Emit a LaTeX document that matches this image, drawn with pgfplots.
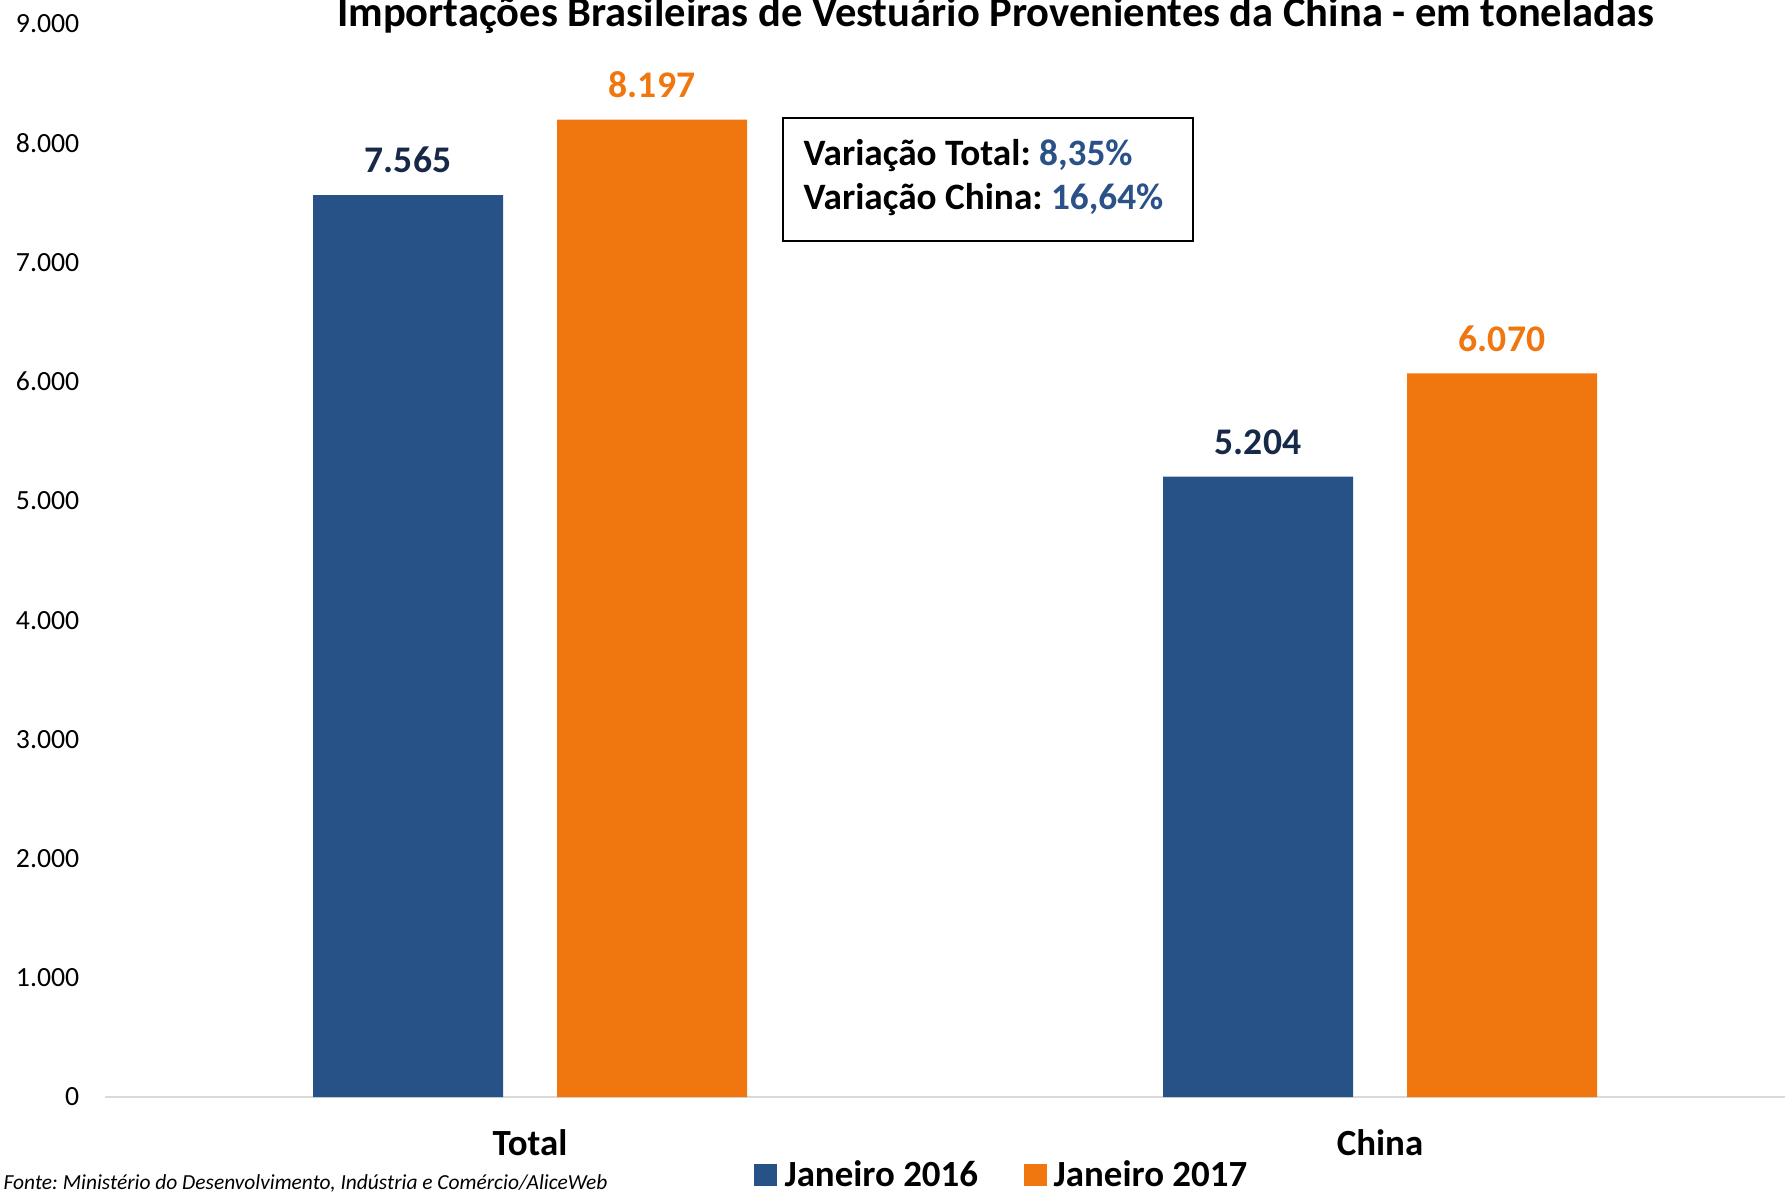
\documentclass[border=0pt]{standalone}
\usepackage{fontspec}
\setmainfont{Carlito}
\usepackage{pgfplots}
\pgfplotsset{compat=1.18}
\definecolor{barblue}{RGB}{38,82,135}
\definecolor{barorange}{RGB}{240,118,16}
\definecolor{labnavy}{RGB}{23,41,72}
\definecolor{boxblue}{RGB}{43,82,136}
\definecolor{axisgray}{RGB}{217,217,217}
\frenchspacing

\begin{document}
\begin{tikzpicture}
% the reference is cropped at top and right
\useasboundingbox (-1.05,-0.95) rectangle (16.80,10.97);
\clip (-1.05,-0.95) rectangle (16.80,10.97);
\begin{axis}[
  at={(0,0)}, anchor=south west,
  scale only axis,
  width=17cm, height=10.73cm,
  xmin=-0.5, xmax=1.5,
  ymin=0, ymax=9000,
  ybar=0.54cm, bar width=1.9cm,
  xtick=data, xticklabels={Total, China},
  ytick={0,1000,...,9000},
  axis x line*=bottom, axis y line*=left,
  y axis line style={draw=none},
  x axis line style={axisgray, line width=0.6pt},
  major tick length=0pt,
  /pgf/number format/1000 sep={.},
  /pgf/number format/assume math mode=true,
  yticklabel style={font=\fontsize{7.9}{10}\selectfont, anchor=east, xshift=-3.8pt},
  xticklabel style={font=\bfseries\fontsize{10.5}{12}\selectfont, anchor=base, yshift=-16.5pt},
  nodes near coords,
  nodes near coords style={font=\bfseries\fontsize{10.7}{12}\selectfont, anchor=base, yshift=6.3pt},
  legend image code/.code={\fill[#1, draw=none] (0cm,-0.1cm) rectangle (0.23cm,0.12cm);
    \path (0.266cm,0cm);},
  legend style={at={(0.528,-0.0735)}, anchor=center, draw=none, fill=none,
    legend columns=2, font=\bfseries\fontsize{10.5}{12}\selectfont,
    nodes={inner xsep=1pt, inner ysep=0pt},
    /tikz/every even column/.append style={column sep=0.42cm}},
  clip=false,
]
\addplot[fill=barblue, draw=none, nodes near coords style={text=labnavy}]
  coordinates {(0,7565) (1,5204)};
\addplot[fill=barorange, draw=none, nodes near coords style={text=barorange}]
  coordinates {(0,8197) (1,6070)};
\legend{Janeiro 2016, Janeiro 2017}

\node[font=\bfseries\fontsize{12.1}{14}\selectfont, anchor=base] at (axis cs:0.548,8983)
  {Importações Brasileiras de Vestuário Provenientes da China - em toneladas};

\draw[black, line width=0.6pt] (axis cs:0.2976,7180) rectangle (axis cs:0.78,8212);
\node[font=\bfseries\fontsize{10.6}{12}\selectfont, anchor=base west, inner sep=0pt]
  at (axis cs:0.3212,7817) {Variação Total: \textcolor{boxblue}{8,35\%}};
\node[font=\bfseries\fontsize{10.6}{12}\selectfont, anchor=base west, inner sep=0pt]
  at (axis cs:0.3212,7440) {Variação China: \textcolor{boxblue}{16,64\%}};

\node[font=\itshape\fontsize{6.1}{7}\selectfont, anchor=base west, inner sep=0pt]
  at (axis cs:-0.62,-772) {Fonte: Ministério do Desenvolvimento, Indústria e Comércio/AliceWeb};
\end{axis}
\end{tikzpicture}
\end{document}
